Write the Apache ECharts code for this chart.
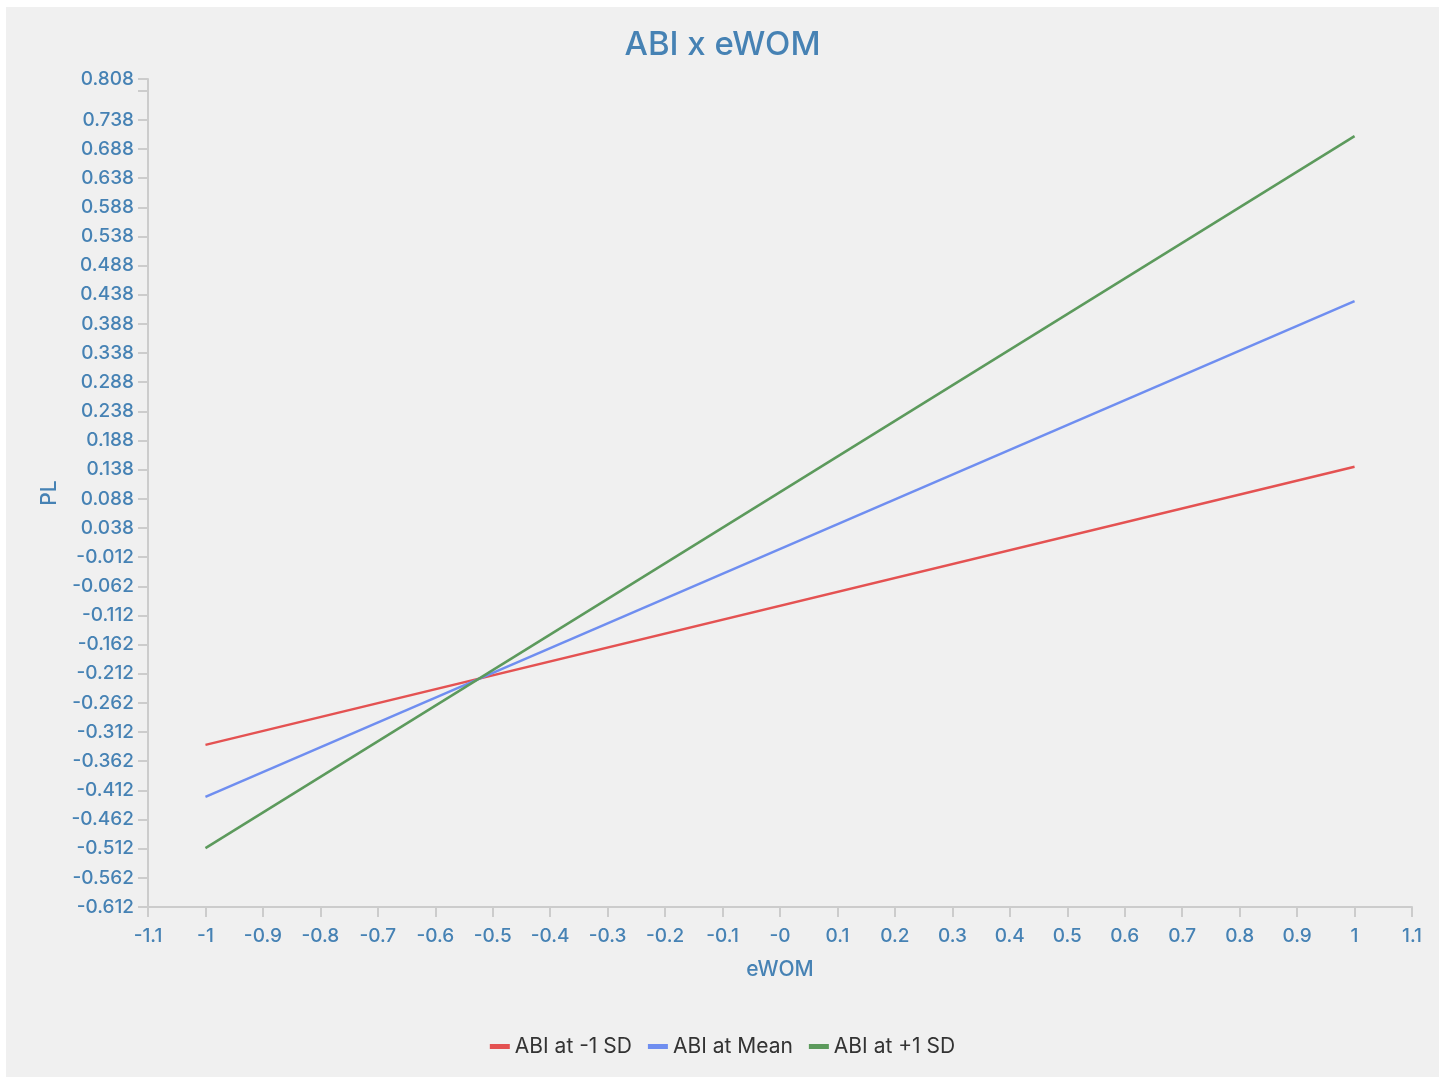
<!DOCTYPE html>
<html>
<head>
<meta charset="utf-8">
<script src="https://cdn.jsdelivr.net/npm/echarts@6/dist/echarts.min.js"></script>
<style>
html,body{margin:0;padding:0;background:#ffffff;}
#wrap{position:absolute;left:6px;top:7px;width:1433px;height:1070px;background:#f0f0f0;}
#chart{width:100%;height:100%;}
</style>
</head>
<body>
<div id="wrap"><div id="chart"></div></div>
<script>
// ---- data ----
const seriesNames = ['ABI at -1 SD', 'ABI at Mean', 'ABI at +1 SD'];
const xValues = [-1, 1];
const lowSD = [-0.334, 0.143];
const meanVals = [-0.423, 0.427];
const highSD = [-0.511, 0.710];
const yLabelValues = [-0.612,-0.562,-0.512,-0.462,-0.412,-0.362,-0.312,-0.262,-0.212,-0.162,-0.112,-0.062,-0.012,0.038,0.088,0.138,0.188,0.238,0.288,0.338,0.388,0.438,0.488,0.538,0.588,0.638,0.688,0.738,0.808];
const yTickValues = [-0.612,-0.562,-0.512,-0.462,-0.412,-0.362,-0.312,-0.262,-0.212,-0.162,-0.112,-0.062,-0.012,0.038,0.088,0.138,0.188,0.238,0.288,0.338,0.388,0.438,0.488,0.538,0.588,0.638,0.688,0.738,0.788,0.808];
const xTickValues = [-1.1,-1,-0.9,-0.8,-0.7,-0.6,-0.5,-0.4,-0.3,-0.2,-0.1,0,0.1,0.2,0.3,0.4,0.5,0.6,0.7,0.8,0.9,1,1.1];
const xTickLabels = ['-1.1','-1','-0.9','-0.8','-0.7','-0.6','-0.5','-0.4','-0.3','-0.2','-0.1','-0','0.1','0.2','0.3','0.4','0.5','0.6','0.7','0.8','0.9','1','1.1'];
const colors = ['#e45252', '#6f8ef0', '#5c9a5c'];

const pairs = (ys) => xValues.map((x, i) => [x, ys[i]]);
const textBlue = '#4682b4';
const font = 'Inter, "Noto Sans", sans-serif';

const chart = echarts.init(document.getElementById('chart'));
chart.setOption({
  backgroundColor: 'transparent',
  color: colors,
  title: {
    text: 'ABI x eWOM', left: 'center', top: 17,
    textStyle: {color: textBlue, fontSize: 33, fontWeight: 500, fontFamily: font}
  },
  legend: {
    bottom: 15, left: 'center', icon: 'rect', itemWidth: 20, itemHeight: 5, itemGap: 16,
    textStyle: {color: '#333', fontSize: 21, fontFamily: font},
    data: seriesNames
  },
  grid: {left: 142, right: 27, top: 72, bottom: 170, containLabel: false},
  xAxis: {
    type: 'value', min: -1.1, max: 1.1,
    name: 'eWOM', nameLocation: 'middle', nameGap: 52,
    nameTextStyle: {color: textBlue, fontSize: 21, fontWeight: 500, fontFamily: font},
    axisLine: {show: true, onZero: false, lineStyle: {color: '#cccccc', width: 2}},
    axisTick: {show: true, length: 10, lineStyle: {color: '#cccccc', width: 2}, customValues: xTickValues},
    splitLine: {show: false},
    axisLabel: {
      color: textBlue, fontSize: 19, fontWeight: 500, fontFamily: font, margin: 20,
      customValues: xTickValues,
      formatter: (v) => {
        const i = xTickValues.findIndex(t => Math.abs(t - v) < 1e-9);
        return i >= 0 ? xTickLabels[i] : '';
      }
    }
  },
  yAxis: {
    type: 'value', min: -0.612, max: 0.808,
    name: 'PL', nameLocation: 'middle', nameGap: 88, nameRotate: 90,
    nameTextStyle: {color: textBlue, fontSize: 21, fontWeight: 500, fontFamily: font},
    axisLine: {show: true, onZero: false, lineStyle: {color: '#cccccc', width: 2}},
    axisTick: {show: true, length: 10, lineStyle: {color: '#cccccc', width: 2}, customValues: yTickValues},
    splitLine: {show: false},
    axisLabel: {
      color: textBlue, fontSize: 19, fontWeight: 500, fontFamily: font, margin: 14,
      customValues: yLabelValues,
      formatter: (v) => v.toFixed(3)
    }
  },
  series: [
    {name: seriesNames[0], type: 'line', data: pairs(lowSD), showSymbol: false, lineStyle: {width: 2.5}, silent: true},
    {name: seriesNames[1], type: 'line', data: pairs(meanVals), showSymbol: false, lineStyle: {width: 2.5}, silent: true},
    {name: seriesNames[2], type: 'line', data: pairs(highSD), showSymbol: false, lineStyle: {width: 2.5}, silent: true}
  ]
});
</script>
</body>
</html>
